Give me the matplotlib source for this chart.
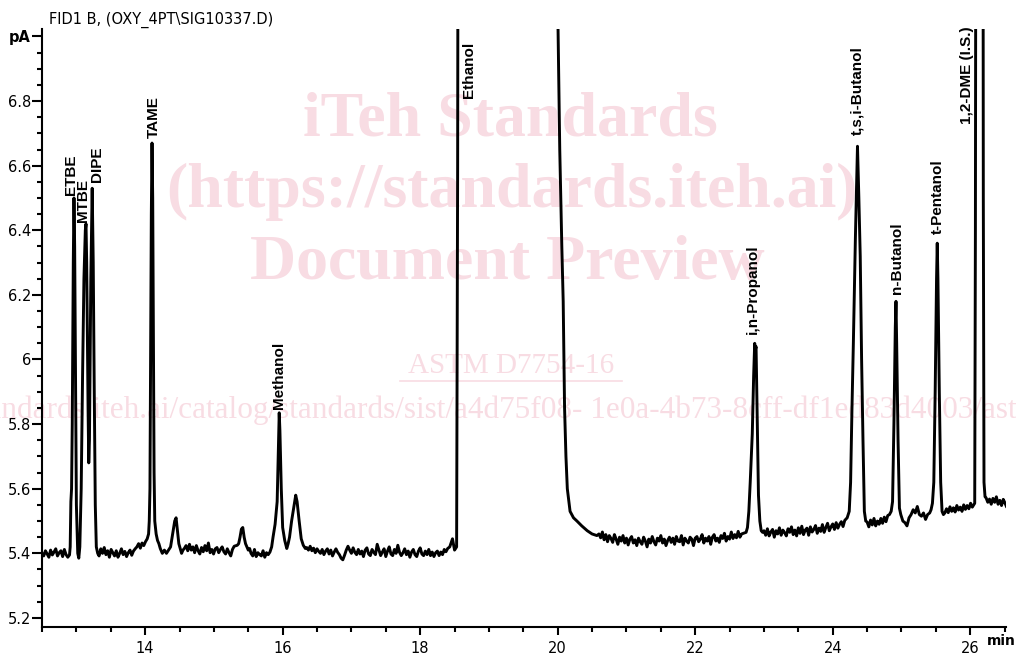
import numpy as np
import matplotlib
matplotlib.use('Agg')
import matplotlib.pyplot as plt
from matplotlib.ticker import MultipleLocator, FixedLocator

PASO = 0.025  # paso de muestreo en los tramos de linea base

# linea base 12.50 - 12.88
base1_t0 = 12.50
base1 = [5.400, 5.392, 5.408, 5.398, 5.388, 5.410, 5.395, 5.404, 5.414, 5.392,
         5.402, 5.408, 5.390, 5.412, 5.396, 5.388]

# ETBE / MTBE / DIPE
grupo1_t = [12.90, 12.91, 12.92, 12.93, 12.94, 12.955, 12.965, 12.975, 12.99, 13.00,
            13.02, 13.035, 13.05, 13.07, 13.09, 13.11, 13.13, 13.14, 13.15, 13.17,
            13.18, 13.19, 13.21, 13.23, 13.245, 13.26, 13.275, 13.29, 13.31]
grupo1_y = [5.395, 5.42, 5.56, 5.60, 5.80, 6.30, 6.50, 6.35, 5.85, 5.55,
            5.40, 5.385, 5.42, 5.60, 5.95, 6.25, 6.40, 6.42, 6.30, 5.85,
            5.68, 5.75, 6.25, 6.53, 6.30, 5.90, 5.55, 5.42, 5.40]

# linea base 13.33 - 14.03
base2_t0 = 13.33
base2 = [5.392, 5.414, 5.400, 5.418, 5.396, 5.408, 5.388, 5.412, 5.402, 5.392,
         5.408, 5.388, 5.400, 5.414, 5.396, 5.406, 5.390, 5.402, 5.410, 5.394,
         5.407, 5.414, 5.420, 5.430, 5.416, 5.432, 5.424, 5.436, 5.445]

# TAME y pico menor a 14.45
grupo2_t = [14.05, 14.06, 14.07, 14.08, 14.09, 14.10, 14.11, 14.12, 14.13, 14.14,
            14.16, 14.18, 14.20, 14.22, 14.25, 14.28, 14.31, 14.34, 14.37, 14.40,
            14.43, 14.45, 14.47, 14.49, 14.51, 14.53, 14.55]
grupo2_y = [5.46, 5.50, 5.60, 6.00, 6.45, 6.67, 6.50, 6.05, 5.65, 5.50,
            5.46, 5.44, 5.43, 5.415, 5.40, 5.41, 5.40, 5.41, 5.42, 5.46,
            5.50, 5.51, 5.47, 5.43, 5.415, 5.40, 5.41]

# linea base 14.57 - 15.32
base3_t0 = 14.57
base3 = [5.415, 5.424, 5.408, 5.428, 5.410, 5.420, 5.402, 5.424, 5.408, 5.398,
         5.418, 5.405, 5.424, 5.408, 5.432, 5.402, 5.412, 5.398, 5.414, 5.418,
         5.402, 5.412, 5.420, 5.405, 5.398, 5.414, 5.402, 5.392, 5.412, 5.422]

# pico menor a 15.42
grupo3_t = [15.34, 15.36, 15.38, 15.40, 15.42, 15.44, 15.46, 15.48, 15.50, 15.52]
grupo3_y = [5.425, 5.43, 5.45, 5.475, 5.48, 5.45, 5.43, 5.42, 5.41, 5.415]

# linea base 15.54 - 15.82
base4_t0 = 15.54
base4 = [5.400, 5.392, 5.412, 5.390, 5.402, 5.396, 5.392, 5.408, 5.388, 5.402,
         5.396, 5.404]

# Metanol y pico a 16.2
grupo4_t = [15.84, 15.86, 15.89, 15.92, 15.94, 15.95, 15.96, 15.98, 16.00, 16.03,
            16.06, 16.08, 16.10, 16.13, 16.16, 16.19, 16.21, 16.24, 16.27, 16.30,
            16.33]
grupo4_y = [5.42, 5.45, 5.49, 5.56, 5.75, 5.835, 5.78, 5.60, 5.48, 5.44,
            5.415, 5.43, 5.45, 5.50, 5.54, 5.58, 5.56, 5.50, 5.445, 5.425,
            5.415]

# linea base 16.35 - 18.38
base5_t0 = 16.35
base5 = [5.418, 5.410, 5.422, 5.408, 5.416, 5.402, 5.414, 5.406, 5.400, 5.412,
         5.396, 5.407, 5.414, 5.398, 5.410, 5.392, 5.404, 5.414, 5.403, 5.396,
         5.385, 5.380, 5.394, 5.410, 5.422, 5.410, 5.400, 5.417, 5.403, 5.396,
         5.412, 5.398, 5.407, 5.390, 5.410, 5.417, 5.398, 5.393, 5.412, 5.403,
         5.396, 5.428, 5.410, 5.393, 5.404, 5.414, 5.390, 5.407, 5.420, 5.398,
         5.393, 5.412, 5.400, 5.425, 5.403, 5.393, 5.402, 5.414, 5.396, 5.407,
         5.388, 5.404, 5.412, 5.396, 5.390, 5.407, 5.417, 5.398, 5.393, 5.407,
         5.396, 5.412, 5.393, 5.404, 5.390, 5.402, 5.407, 5.393, 5.404, 5.396,
         5.412, 5.405]

# Etanol (fuera de escala) y cola
etanol_t = [18.40, 18.43, 18.47, 18.50, 18.53, 18.545, 18.56, 19.99, 20.00, 20.03,
            20.06, 20.08, 20.10, 20.12, 20.14, 20.18, 20.23, 20.28, 20.35, 20.43,
            20.50, 20.57]
etanol_y = [5.415, 5.42, 5.445, 5.41, 5.42, 6.60, 9.00, 9.00, 7.10, 6.65,
            6.35, 6.18, 5.85, 5.70, 5.60, 5.53, 5.51, 5.50, 5.485, 5.47,
            5.46, 5.455]

# linea base 20.60 - 22.72
base6_t0 = 20.60
base6 = [5.460, 5.448, 5.466, 5.442, 5.458, 5.436, 5.455, 5.446, 5.434, 5.458,
         5.444, 5.428, 5.450, 5.438, 5.455, 5.432, 5.447, 5.426, 5.444, 5.452,
         5.432, 5.442, 5.424, 5.447, 5.436, 5.428, 5.450, 5.438, 5.420, 5.444,
         5.432, 5.452, 5.436, 5.426, 5.447, 5.438, 5.455, 5.432, 5.444, 5.424,
         5.440, 5.450, 5.434, 5.447, 5.428, 5.452, 5.438, 5.436, 5.455, 5.426,
         5.447, 5.438, 5.432, 5.450, 5.444, 5.424, 5.447, 5.452, 5.436, 5.444,
         5.458, 5.432, 5.447, 5.438, 5.452, 5.428, 5.450, 5.458, 5.438, 5.447,
         5.434, 5.455, 5.446, 5.462, 5.438, 5.452, 5.444, 5.466, 5.446, 5.458,
         5.448, 5.468, 5.450, 5.460, 5.462]

# i,n-Propanol
grupo5_t = [22.74, 22.76, 22.78, 22.80, 22.83, 22.85, 22.865, 22.875, 22.885, 22.90,
            22.92, 22.94, 22.96, 22.98]
grupo5_y = [5.465, 5.48, 5.53, 5.62, 5.77, 5.95, 6.05, 6.03, 6.04, 5.85,
            5.58, 5.50, 5.47, 5.465]

# linea base 23.00 - 24.18
base7_t0 = 23.00
base7 = [5.470, 5.456, 5.476, 5.454, 5.466, 5.474, 5.450, 5.470, 5.460, 5.479,
         5.456, 5.472, 5.464, 5.454, 5.476, 5.465, 5.482, 5.458, 5.472, 5.454,
         5.479, 5.462, 5.484, 5.458, 5.472, 5.478, 5.456, 5.482, 5.466, 5.474,
         5.486, 5.462, 5.478, 5.468, 5.489, 5.465, 5.480, 5.493, 5.470, 5.482,
         5.491, 5.474, 5.495, 5.478, 5.490, 5.498, 5.483, 5.502]

# t,s,i-Butanol
grupo6_t = [24.21, 24.24, 24.26, 24.28, 24.30, 24.33, 24.36, 24.38, 24.40, 24.42,
            24.44, 24.46, 24.48]
grupo6_y = [5.51, 5.53, 5.62, 5.85, 6.05, 6.38, 6.66, 6.50, 6.32, 6.00,
            5.75, 5.53, 5.50]

# linea base 24.50 - 24.83
base8_t0 = 24.50
base8 = [5.497, 5.482, 5.503, 5.488, 5.508, 5.485, 5.500, 5.490, 5.508, 5.493,
         5.512, 5.498, 5.517, 5.520]

# n-Butanol, t-Pentanol
grupo7_t = [24.85, 24.87, 24.89, 24.91, 24.92, 24.93, 24.95, 24.97, 24.99, 25.02,
            25.05, 25.08, 25.11, 25.14, 25.17, 25.20, 25.23, 25.26, 25.29, 25.32,
            25.35, 25.38, 25.41, 25.43, 25.45, 25.47, 25.49, 25.51, 25.52, 25.53,
            25.55, 25.57, 25.59, 25.61]
grupo7_y = [5.53, 5.56, 5.80, 6.10, 6.18, 6.05, 5.75, 5.54, 5.52, 5.50,
            5.495, 5.485, 5.51, 5.52, 5.535, 5.525, 5.545, 5.52, 5.515, 5.525,
            5.505, 5.52, 5.525, 5.535, 5.555, 5.62, 5.90, 6.25, 6.36, 6.25,
            5.90, 5.62, 5.53, 5.52]

# linea base 25.63 - 26.05
base9_t0 = 25.63
base9 = [5.525, 5.538, 5.526, 5.544, 5.530, 5.541, 5.528, 5.548, 5.534, 5.543,
         5.530, 5.550, 5.536, 5.548, 5.538, 5.555, 5.543, 5.552]

# 1,2-DME (patron interno, fuera de escala)
dme_t = [26.065, 26.075, 26.09, 26.18, 26.19, 26.20, 26.215]
dme_y = [5.555, 6.40, 9.00, 9.00, 6.50, 5.62, 5.575]

# linea base 26.23 - 26.55
base10_t0 = 26.23
base10 = [5.572, 5.558, 5.568, 5.552, 5.570, 5.558, 5.575, 5.552, 5.564, 5.548,
          5.567, 5.556, 5.543, 5.555]

# ---- etiquetas de picos ----
nombres = ['ETBE', 'MTBE', 'DIPE', 'TAME', 'Methanol', 'Ethanol', 'i,n-Propanol',
           't,s,i-Butanol', 'n-Butanol', 't-Pentanol', '1,2-DME (I.S.)']
pico_t = [12.965, 13.14, 13.23, 14.10, 15.95, 18.545, 22.87, 24.36, 24.92, 25.52, 26.085]
pico_y = [6.50, 6.42, 6.53, 6.67, 5.835, 6.81, 6.05, 6.66, 6.18, 6.36, 6.73]

# desplazamientos de las etiquetas en pixeles
desp = [(-3, 3), (-3, 2), (5, 6), (2, 5), (0, 4), (11, 0), (-2, 9), (0, 11),
        (1, 7), (1, 9), (-9, 0)]

y_ticks = [5.2, 5.4, 5.6, 5.8, 6.0, 6.2, 6.4, 6.6, 6.8, 7.0]
x_ticks = [14, 16, 18, 20, 22, 24, 26]


def tramo(t0, vals):
    return t0 + PASO * np.arange(len(vals)), np.array(vals)


piezas = [tramo(base1_t0, base1), (grupo1_t, grupo1_y),
          tramo(base2_t0, base2), (grupo2_t, grupo2_y),
          tramo(base3_t0, base3), (grupo3_t, grupo3_y),
          tramo(base4_t0, base4), (grupo4_t, grupo4_y),
          tramo(base5_t0, base5), (etanol_t, etanol_y),
          tramo(base6_t0, base6), (grupo5_t, grupo5_y),
          tramo(base7_t0, base7), (grupo6_t, grupo6_y),
          tramo(base8_t0, base8), (grupo7_t, grupo7_y),
          tramo(base9_t0, base9), (dme_t, dme_y),
          tramo(base10_t0, base10)]
tiempo = np.concatenate([np.asarray(p[0], float) for p in piezas])
senal = np.concatenate([np.asarray(p[1], float) for p in piezas])

fig = plt.figure(figsize=(10.16, 6.56), dpi=100)
fig.patch.set_facecolor('white')
ax = fig.add_axes([42 / 1016, 29 / 656, 964 / 1016, 598 / 656])

# marca de agua
rosa = '#f8dce3'
kw = dict(transform=fig.transFigure, color=rosa, family='Liberation Serif',
          zorder=0.5, clip_on=False, ha='center', va='center')
ax.text(0.502, 0.817, 'iTeh Standards', fontsize=46, fontweight='bold', **kw)
ax.text(0.504, 0.708, '(https://standards.iteh.ai)', fontsize=46, fontweight='bold', **kw)
ax.text(0.499, 0.597, 'Document Preview', fontsize=46, fontweight='bold', **kw)
ax.text(0.503, 0.442, 'ASTM D7754-16', fontsize=21, **kw)
ax.plot([400 / 1016, 622 / 1016], [1 - 381 / 656, 1 - 381 / 656], color=rosa, lw=1.2,
        transform=fig.transFigure, clip_on=False, zorder=0.5)
kw['ha'] = 'left'
ax.text(-0.118, 0.375,
        'https://standards.iteh.ai/catalog/standards/sist/a4d75f08- 1e0a-4b73-8cff-df1ed83d4003/astm-d7754-16',
        fontsize=22.5, **kw)

# traza
ax.plot(tiempo, senal, color='black', lw=2.1, zorder=2, solid_joinstyle='round')

for n, t, y, (dx, dy) in zip(nombres, pico_t, pico_y, desp):
    ax.annotate(n, (t, y), xytext=(dx, dy), textcoords='offset pixels',
                rotation=90, ha='center', va='bottom', fontsize=11,
                fontweight='bold', family='Liberation Sans', zorder=3)

ax.set_xlim(12.5, 26.52)
ax.set_ylim(5.172, 7.023)
ax.spines['top'].set_visible(False)
ax.spines['right'].set_visible(False)
ax.spines['left'].set_linewidth(1.5)
ax.spines['bottom'].set_linewidth(1.5)

ax.xaxis.set_major_locator(FixedLocator(x_ticks))
ax.xaxis.set_minor_locator(MultipleLocator(0.5))
ax.yaxis.set_major_locator(FixedLocator(y_ticks))
ax.yaxis.set_minor_locator(MultipleLocator(0.05))
ax.set_yticklabels(['%g' % v for v in y_ticks[:-1]] + ['pA'])
ax.get_yticklabels()[-1].set_fontweight('bold')
ax.tick_params(axis='x', which='major', length=6, width=1.5, pad=4, labelsize=10.5)
ax.tick_params(axis='x', which='minor', length=3.5, width=1.5)
ax.tick_params(axis='y', which='major', length=7, width=1.5, pad=1, labelsize=10.5)
ax.tick_params(axis='y', which='minor', length=3.5, width=1.5)

fig.text(987 / 1016, 1 - 641 / 656, 'min', fontsize=10, fontweight='bold',
         ha='left', va='center')
fig.text(49 / 1016, 1 - 20 / 656, 'FID1 B, (OXY_4PT\\SIG10337.D)', fontsize=10.5,
         ha='left', va='center')

fig.savefig('out.png', dpi=100, facecolor='white')
